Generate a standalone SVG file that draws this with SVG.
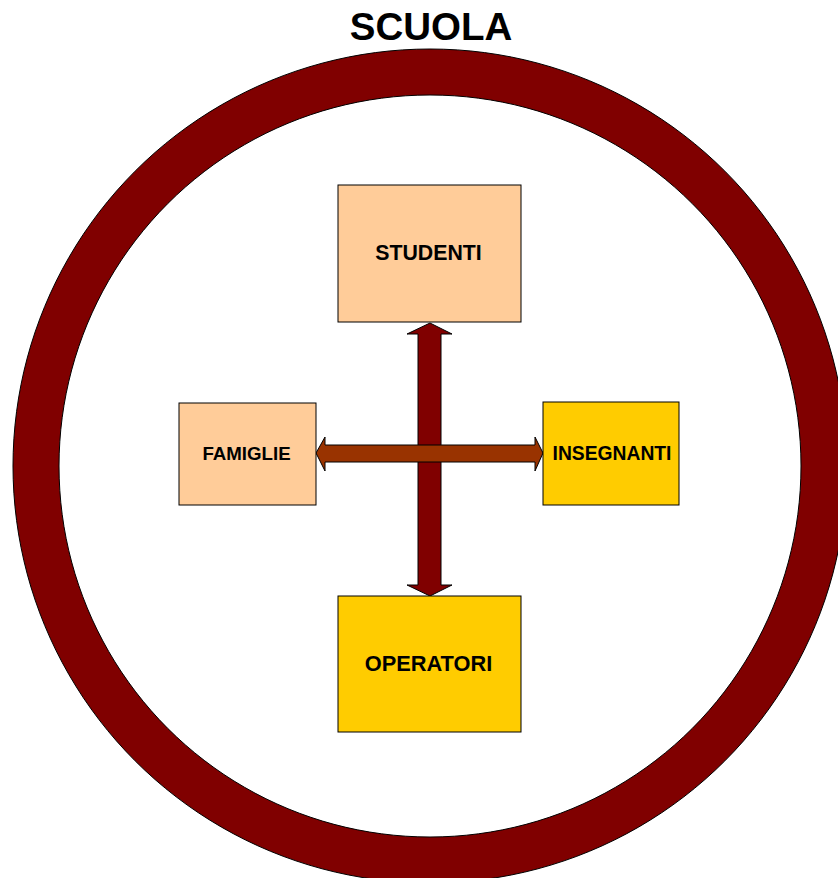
<svg xmlns="http://www.w3.org/2000/svg" width="838" height="878" viewBox="0 0 838 878">
<style>
text{font-family:"Liberation Sans",Arial,sans-serif;font-weight:bold;fill:#000;text-anchor:middle}
.box{stroke:#000;stroke-width:1}
.peach{fill:#FFCC99}
.gold{fill:#FFCC00}
</style>
<rect width="838" height="878" fill="#fff"/>
<g id="ring">
<path d="M430,49 A417,417 0 1,1 429.99,49 Z M430,95 A371,371 0 1,0 430.01,95 Z" fill="#800000" fill-rule="evenodd" stroke="#000" stroke-width="1"/>
</g>
<text id="title" x="431" y="40" font-size="38.5">SCUOLA</text>
<g id="connectors">
<path d="M430,323 L452,334 L441,334 L441,585 L452,585 L430,596 L407,585 L418,585 L418,334 L407,334 Z" fill="#800000" stroke="#000" stroke-width="1"/>
<path d="M316,453 L325,437 L325,445 L535,445 L535,437 L543,453 L535,471 L535,462 L325,462 L325,471 Z" fill="#993300" stroke="#000" stroke-width="1"/>
</g>
<g id="studenti">
<rect class="box peach" x="338" y="185" width="183" height="137"/>
<text x="428.5" y="260" font-size="21.3">STUDENTI</text>
</g>
<g id="famiglie">
<rect class="box peach" x="179" y="403" width="137" height="102"/>
<text x="246.5" y="459.5" font-size="18.7">FAMIGLIE</text>
</g>
<g id="insegnanti">
<rect class="box gold" x="543" y="402" width="136" height="103"/>
<text x="612" y="459.5" font-size="19.3">INSEGNANTI</text>
</g>
<g id="operatori">
<rect class="box gold" x="338" y="596" width="183" height="136"/>
<text x="428.5" y="670.5" font-size="21.8">OPERATORI</text>
</g>
</svg>
